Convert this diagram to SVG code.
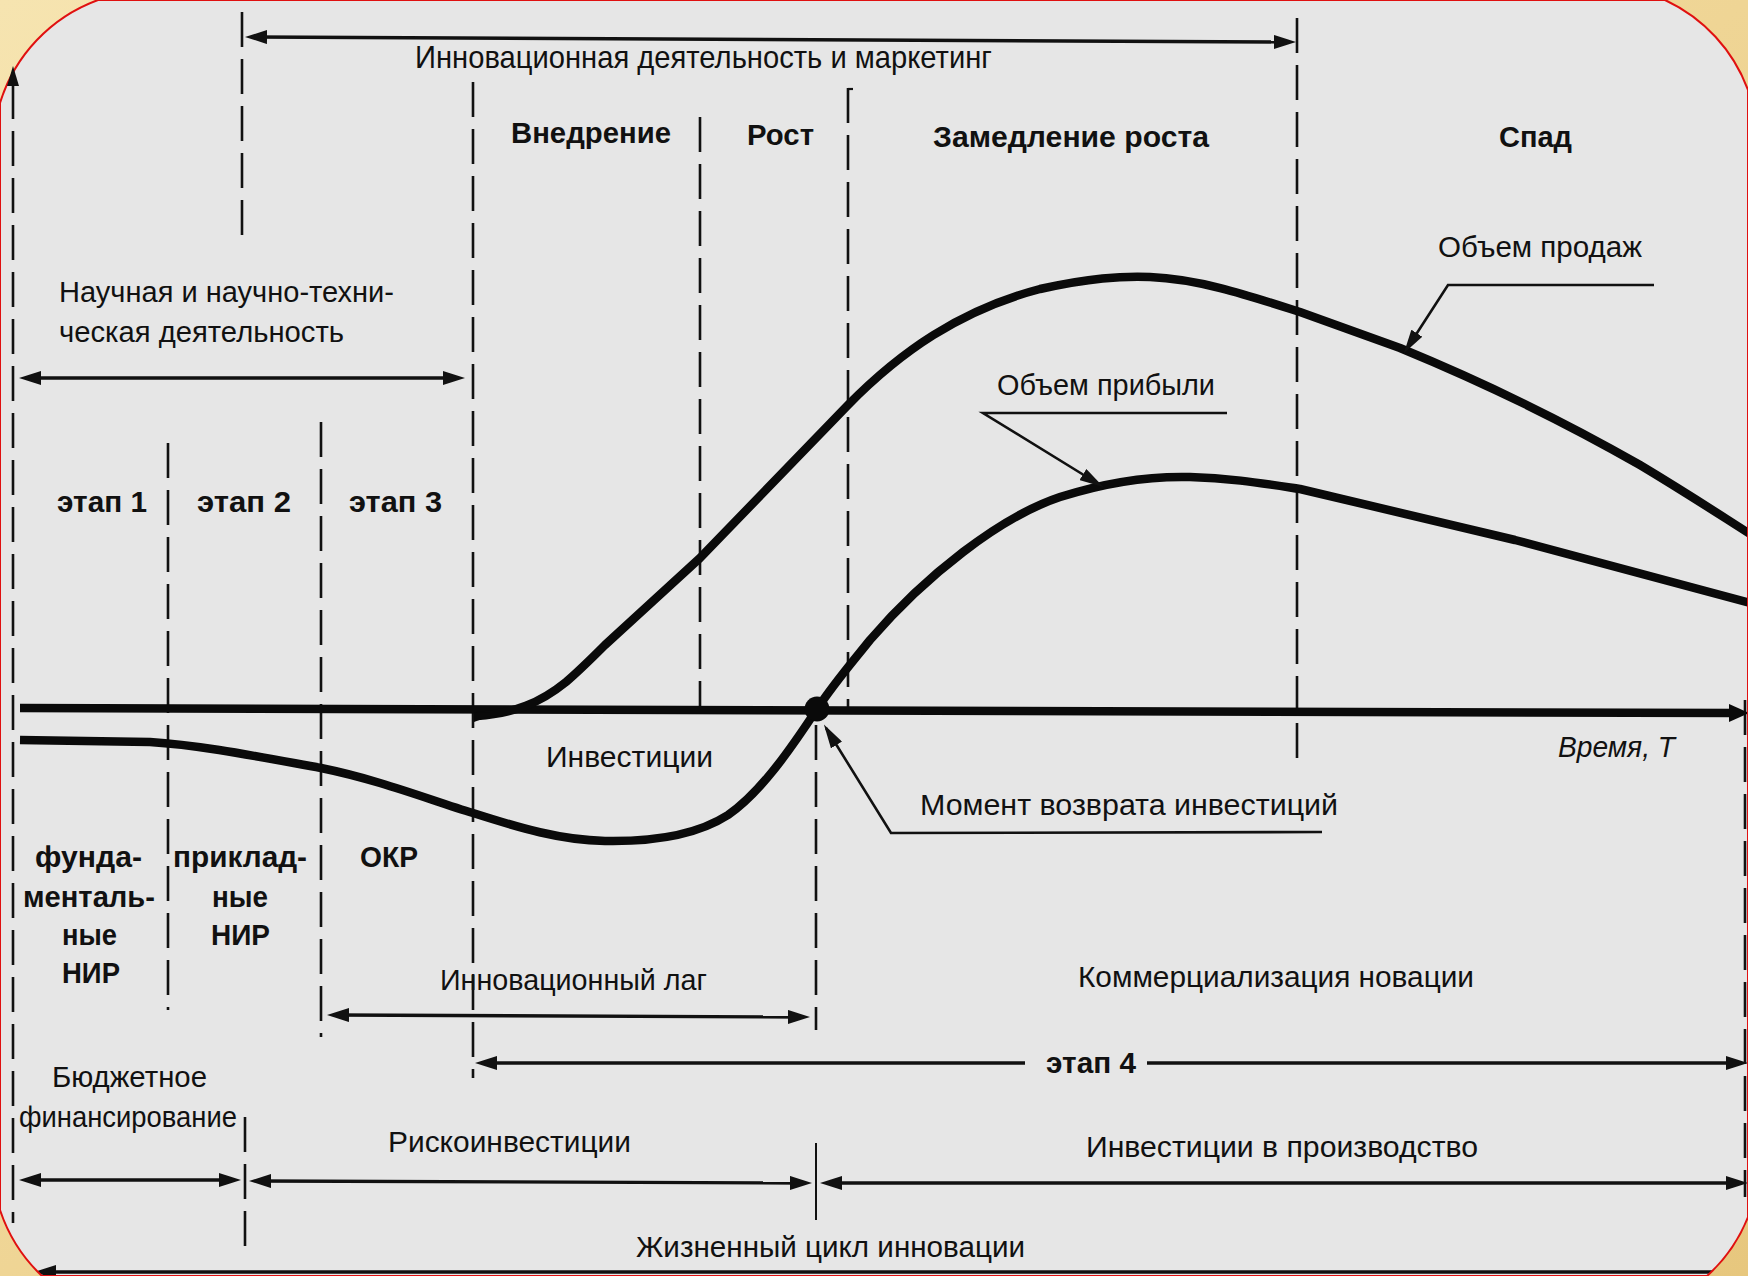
<svg xmlns="http://www.w3.org/2000/svg" width="1748" height="1276" viewBox="0 0 1748 1276">
<style>
.t{font-family:"Liberation Sans","Arial",sans-serif;fill:#111;}
.r{font-size:30px;}
.b{font-size:29px;font-weight:bold;}
.dash{stroke:#111;stroke-width:2.6;fill:none;stroke-dasharray:35 12;}
.thick{stroke:#0a0a0a;stroke-width:8.5;fill:none;stroke-linecap:butt;stroke-linejoin:round;}
.arr{stroke:#111;stroke-width:3.4;fill:none;}
.lead{stroke:#111;stroke-width:2.6;fill:none;}
</style>
<defs>
<linearGradient id="gold" x1="0" y1="0" x2="1" y2="1">
<stop offset="0" stop-color="#f6e4b0"/>
<stop offset="0.5" stop-color="#efd595"/>
<stop offset="1" stop-color="#e7c77e"/>
</linearGradient>
<clipPath id="frameClip">
<path d="M 98,0 L 1665,0 A 160 160 0 0 1 1748,90 L 1748,1217 A 160 160 0 0 1 1707,1276 L 42,1276 A 160 160 0 0 1 0,1210 L 0,103 A 160 160 0 0 1 98,0 Z"/>
</clipPath>
<marker id="ah" viewBox="0 0 22 14" refX="12" refY="7" markerWidth="22" markerHeight="14" markerUnits="userSpaceOnUse" orient="auto-start-reverse">
<path d="M0,0 L22,7 L0,14 Z" fill="#111"/>
</marker>
<marker id="lh" viewBox="0 0 24 13" refX="20" refY="6.5" markerWidth="24" markerHeight="13" markerUnits="userSpaceOnUse" orient="auto">
<path d="M0,0 L24,6.5 L0,13 Z" fill="#111"/>
</marker>
<marker id="axh" viewBox="0 0 20 18" refX="7" refY="9" markerWidth="20" markerHeight="18" markerUnits="userSpaceOnUse" orient="auto">
<path d="M0,0 L20,9 L0,18 Z" fill="#0a0a0a"/>
</marker>
</defs>

<rect x="0" y="0" width="1748" height="1276" fill="url(#gold)"/>
<path d="M 98,0 L 1665,0 A 160 160 0 0 1 1748,90 L 1748,1217 A 160 160 0 0 1 1707,1276 L 42,1276 A 160 160 0 0 1 0,1210 L 0,103 A 160 160 0 0 1 98,0 Z" fill="#e6e6e6"/>

<g clip-path="url(#frameClip)">
<g id="connectors">
<!-- vertical axis -->
<line x1="13" y1="84" x2="13" y2="1223" class="dash"/>
<!-- dashed dividers -->
<line x1="242" y1="12" x2="242" y2="238" class="dash"/>
<line x1="473" y1="82" x2="473" y2="1078" class="dash"/>
<line x1="700" y1="117" x2="700" y2="710" class="dash"/>
<line x1="848" y1="88" x2="848" y2="707" class="dash"/>
<path d="M848,89 L853,89" stroke="#111" stroke-width="2.2"/>
<line x1="1297" y1="18" x2="1297" y2="770" class="dash"/>
<line x1="168" y1="443" x2="168" y2="1010" class="dash"/>
<line x1="321" y1="422" x2="321" y2="1037" class="dash"/>
<line x1="816" y1="725" x2="816" y2="1030" class="dash"/>
<line x1="245" y1="1117" x2="245" y2="1250" class="dash"/>
<line x1="816" y1="1143" x2="816" y2="1220" stroke="#111" stroke-width="2"/>
<line x1="1745" y1="700" x2="1745" y2="1197" class="dash"/>

<!-- range arrows -->
<line x1="255" y1="37" x2="1286" y2="42" class="arr" marker-start="url(#ah)" marker-end="url(#ah)"/>
<line x1="29" y1="378" x2="455" y2="378" class="arr" marker-start="url(#ah)" marker-end="url(#ah)"/>
<line x1="337" y1="1015" x2="800" y2="1017" class="arr" marker-start="url(#ah)" marker-end="url(#ah)"/>
<line x1="485" y1="1063" x2="1025" y2="1063" class="arr" marker-start="url(#ah)"/>
<line x1="1147" y1="1063" x2="1738" y2="1063" class="arr" marker-end="url(#ah)"/>
<line x1="29" y1="1180" x2="231" y2="1180" class="arr" marker-start="url(#ah)" marker-end="url(#ah)"/>
<line x1="259" y1="1181" x2="802" y2="1183" class="arr" marker-start="url(#ah)" marker-end="url(#ah)"/>
<line x1="830" y1="1183" x2="1738" y2="1183" class="arr" marker-start="url(#ah)" marker-end="url(#ah)"/>
<line x1="44" y1="1272" x2="1748" y2="1272" class="arr" stroke-width="4" marker-start="url(#ah)"/>

<!-- time axis -->
<line x1="20" y1="708" x2="1736" y2="713" class="thick" marker-end="url(#axh)"/>

<!-- curves -->
<path id="sales-curve" class="thick" d="M 477,716 C 515,713 540,703 566,682 C 580,670 592,658 605,645 L 700,558 L 848,405 C 900,352 960,310 1040,289 C 1090,278 1120,276 1150,277 C 1200,279 1250,296 1300,312 L 1400,348 C 1490,385 1570,425 1640,465 C 1690,495 1720,515 1750,534"/>
<path d="M 474,713 L 490,712 L 490,716 L 474,722 Z" fill="#0a0a0a"/>
<path id="profit-curve" class="thick" d="M 20,740 L 150,742 C 200,745 260,757 321,768 C 380,780 430,800 473,813 C 520,828 560,840 605,841 C 660,842 700,833 728,815 C 760,793 790,750 817,709 C 835,682 850,665 870,640 C 925,576 1000,517 1060,497 C 1110,481 1150,476 1190,477 C 1230,478 1260,483 1300,489 L 1515,540 L 1750,603"/>
<circle cx="817" cy="709" r="12.5" fill="#0a0a0a"/>

<!-- leaders -->
<polyline class="lead" points="1654,285 1448,285 1406,350" marker-end="url(#lh)"/>
<polyline class="lead" points="1227,413 983,413 1100,485" marker-end="url(#lh)"/>
<polyline class="lead" points="1322,832 891,833 826,728" marker-end="url(#lh)"/>
</g>

<g id="label-top"><text class="t" x="415" y="68" font-size="32" textLength="577" lengthAdjust="spacingAndGlyphs">Инновационная деятельность и маркетинг</text></g>
<g id="phase-vnedrenie"><text class="t b" x="511" y="143" textLength="160" lengthAdjust="spacingAndGlyphs">Внедрение</text></g>
<g id="phase-rost"><text class="t b" x="747" y="145" textLength="67" lengthAdjust="spacingAndGlyphs">Рост</text></g>
<g id="phase-zamedlenie"><text class="t b" x="933" y="147" textLength="276" lengthAdjust="spacingAndGlyphs">Замедление роста</text></g>
<g id="phase-spad"><text class="t b" x="1499" y="147" textLength="73" lengthAdjust="spacingAndGlyphs">Спад</text></g>
<g id="label-sales"><text class="t r" x="1438" y="257" textLength="204" lengthAdjust="spacingAndGlyphs">Объем продаж</text></g>
<g id="label-science">
<text class="t" font-size="29" x="59" y="302" textLength="335" lengthAdjust="spacingAndGlyphs">Научная и научно-техни-</text>
<text class="t" font-size="29" x="59" y="342" textLength="285" lengthAdjust="spacingAndGlyphs">ческая деятельность</text>
</g>
<g id="label-profit"><text class="t" font-size="29" x="997" y="395" textLength="218" lengthAdjust="spacingAndGlyphs">Объем прибыли</text></g>
<g id="stage-1"><text class="t b" font-size="28" x="57" y="512" textLength="90" lengthAdjust="spacingAndGlyphs">этап 1</text></g>
<g id="stage-2"><text class="t b" font-size="28" x="197" y="512" textLength="94" lengthAdjust="spacingAndGlyphs">этап 2</text></g>
<g id="stage-3"><text class="t b" font-size="28" x="349" y="512" textLength="93" lengthAdjust="spacingAndGlyphs">этап 3</text></g>
<g id="label-invest"><text class="t r" x="546" y="767" textLength="167" lengthAdjust="spacingAndGlyphs">Инвестиции</text></g>
<g id="label-time"><text class="t r" font-style="italic" x="1558" y="757" textLength="117" lengthAdjust="spacingAndGlyphs">Время, Т</text></g>
<g id="label-return"><text class="t r" x="920" y="815" textLength="418" lengthAdjust="spacingAndGlyphs">Момент возврата инвестиций</text></g>
<g id="block-fund">
<text class="t b" x="35" y="867" textLength="107" lengthAdjust="spacingAndGlyphs">фунда-</text>
<text class="t b" x="23" y="907" textLength="132" lengthAdjust="spacingAndGlyphs">менталь-</text>
<text class="t b" x="62" y="945" textLength="55" lengthAdjust="spacingAndGlyphs">ные</text>
<text class="t b" x="62" y="983" textLength="58" lengthAdjust="spacingAndGlyphs">НИР</text>
</g>
<g id="block-applied">
<text class="t b" x="173" y="867" textLength="134" lengthAdjust="spacingAndGlyphs">приклад-</text>
<text class="t b" x="212" y="907" textLength="56" lengthAdjust="spacingAndGlyphs">ные</text>
<text class="t b" x="211" y="945" textLength="59" lengthAdjust="spacingAndGlyphs">НИР</text>
</g>
<g id="block-okr"><text class="t b" x="360" y="867" textLength="58" lengthAdjust="spacingAndGlyphs">ОКР</text></g>
<g id="label-lag"><text class="t r" x="440" y="990" textLength="267" lengthAdjust="spacingAndGlyphs">Инновационный лаг</text></g>
<g id="label-commerc"><text class="t r" x="1078" y="987" textLength="396" lengthAdjust="spacingAndGlyphs">Коммерциализация новации</text></g>
<g id="stage-4"><text class="t b" font-size="28" x="1046" y="1073" textLength="90" lengthAdjust="spacingAndGlyphs">этап 4</text></g>
<g id="label-budget">
<text class="t r" x="52" y="1087" textLength="155" lengthAdjust="spacingAndGlyphs">Бюджетное</text>
<text class="t r" x="19" y="1127" textLength="218" lengthAdjust="spacingAndGlyphs">финансирование</text>
</g>
<g id="label-risk"><text class="t r" x="388" y="1152" textLength="243" lengthAdjust="spacingAndGlyphs">Рискоинвестиции</text></g>
<g id="label-prod"><text class="t r" x="1086" y="1157" textLength="392" lengthAdjust="spacingAndGlyphs">Инвестиции в производство</text></g>
<g id="label-life"><text class="t r" x="636" y="1257" textLength="389" lengthAdjust="spacingAndGlyphs">Жизненный цикл инновации</text></g>
</g>

<path d="M 98,0 L 1665,0 A 160 160 0 0 1 1748,90 L 1748,1217 A 160 160 0 0 1 1707,1276 L 42,1276 A 160 160 0 0 1 0,1210 L 0,103 A 160 160 0 0 1 98,0 Z" fill="none" stroke="#e01010" stroke-width="2"/>
<g id="axis-y-head"><polygon points="13,66 7,86 19,86" fill="#111"/></g>
</svg>
